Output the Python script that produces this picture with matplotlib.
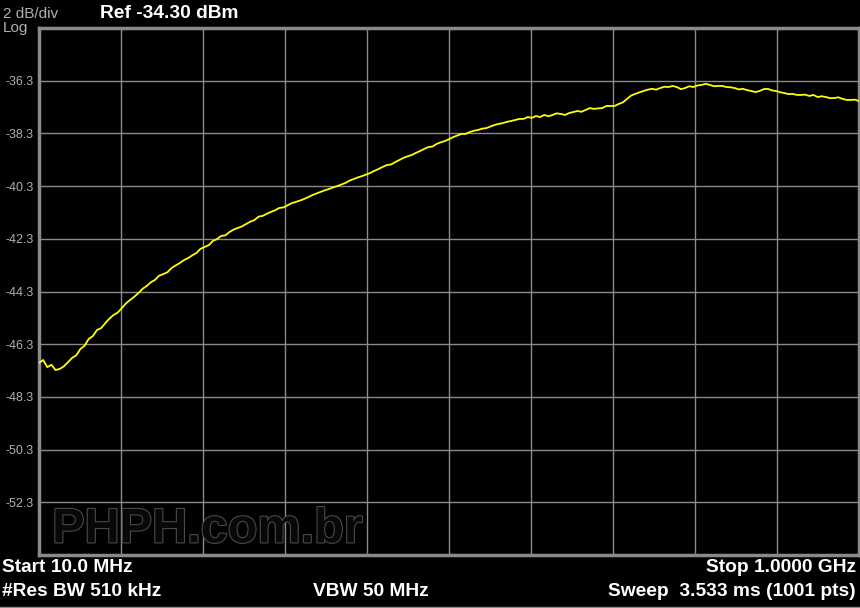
import numpy as np
import matplotlib
matplotlib.use("Agg")
import matplotlib.pyplot as plt
import matplotlib.patheffects as pe

plt.rcParams['font.family'] = ['Liberation Sans', 'DejaVu Sans']

# sweep settings
start_mhz = 10.0
stop_mhz = 1000.0
ref_level = -34.30
db_per_div = 2

# trace levels (dBm), read every 5 MHz from 10 MHz to 1000 MHz
levels = [
    -47.01, -46.90, -47.17, -47.08, -47.28, -47.24, -47.14, -46.98, -46.82, -46.72,
    -46.48, -46.36, -46.10, -45.99, -45.76, -45.69, -45.50, -45.33, -45.19, -45.10,
    -44.93, -44.75, -44.62, -44.50, -44.36, -44.20, -44.09, -43.95, -43.86, -43.70,
    -43.64, -43.57, -43.41, -43.31, -43.22, -43.11, -43.03, -42.93, -42.84, -42.68,
    -42.61, -42.54, -42.38, -42.31, -42.19, -42.17, -42.04, -41.95, -41.89, -41.83,
    -41.74, -41.65, -41.59, -41.46, -41.43, -41.35, -41.28, -41.22, -41.13, -41.11,
    -41.03, -40.95, -40.90, -40.85, -40.79, -40.72, -40.64, -40.58, -40.52, -40.46,
    -40.41, -40.35, -40.30, -40.24, -40.18, -40.09, -40.03, -39.97, -39.92, -39.86,
    -39.80, -39.72, -39.65, -39.57, -39.50, -39.48, -39.39, -39.31, -39.23, -39.17,
    -39.12, -39.04, -38.97, -38.89, -38.82, -38.80, -38.70, -38.64, -38.59, -38.52,
    -38.44, -38.38, -38.32, -38.32, -38.25, -38.20, -38.17, -38.12, -38.10, -38.04,
    -37.98, -37.94, -37.91, -37.86, -37.83, -37.79, -37.75, -37.75, -37.68, -37.71,
    -37.64, -37.68, -37.60, -37.65, -37.60, -37.54, -37.56, -37.60, -37.53, -37.49,
    -37.45, -37.48, -37.41, -37.34, -37.37, -37.35, -37.34, -37.26, -37.26, -37.26,
    -37.18, -37.12, -36.99, -36.86, -36.80, -36.74, -36.69, -36.64, -36.61, -36.64,
    -36.58, -36.53, -36.54, -36.50, -36.54, -36.62, -36.58, -36.51, -36.54, -36.48,
    -36.46, -36.42, -36.46, -36.51, -36.50, -36.50, -36.54, -36.55, -36.58, -36.63,
    -36.61, -36.66, -36.69, -36.73, -36.69, -36.62, -36.61, -36.67, -36.69, -36.74,
    -36.77, -36.81, -36.80, -36.84, -36.84, -36.83, -36.88, -36.84, -36.92, -36.89,
    -36.92, -36.96, -36.96, -36.93, -36.99, -37.03, -37.03, -37.02, -37.07,
]
freqs = np.linspace(start_mhz, stop_mhz, len(levels))

ytick_values = [-36.3, -38.3, -40.3, -42.3, -44.3, -46.3, -48.3, -50.3, -52.3]

W, H = 860, 608
fig = plt.figure(figsize=(W / 100, H / 100), dpi=100, facecolor='black')
ax = fig.add_axes([39 / W, (H - 555) / H, 820 / W, 527 / H], facecolor='black')

ax.plot(freqs, levels, color='#ffff00', lw=1.3, zorder=3)

ax.set_xlim(start_mhz, stop_mhz)
ax.set_ylim(ref_level - 10 * db_per_div, ref_level)
ax.set_xticks(np.linspace(start_mhz, stop_mhz, 11))
ax.set_yticks(ytick_values)
ax.set_yticklabels([f"{v:.1f}" for v in ytick_values])
ax.tick_params(axis='x', length=0, labelbottom=False)
ax.tick_params(axis='y', length=0, colors='#b0b0b0', labelsize=9, pad=4)
ax.grid(True, color='#8a8a8a', lw=1, zorder=1)
for s in ax.spines.values():
    s.set_color('#8a8a8a')
    s.set_linewidth(2.5)

# watermark
ax.text(0.016, 0.005, "PHPH.com.br", transform=ax.transAxes, fontsize=35,
        fontweight='bold', color='#080808', ha='left', va='bottom', zorder=2,
        path_effects=[pe.withStroke(linewidth=1.6, foreground='#4a4a4a')])

# header / footer annotations
def px(x, y):
    return x / W, 1 - y / H

fig.text(*px(3, 14), "2 dB/div", color='#b0b0b0', fontsize=11, va='center')
fig.text(*px(3, 28), "Log", color='#b0b0b0', fontsize=11, va='center')
fig.text(*px(100, 13), "Ref -34.30 dBm", color='white', fontsize=13.8,
         fontweight='bold', va='center')
fig.text(*px(2, 568), "Start 10.0 MHz", color='white', fontsize=13.8,
         fontweight='bold', va='center')
fig.text(*px(856, 568), "Stop 1.0000 GHz", color='white', fontsize=13.8,
         fontweight='bold', va='center', ha='right')
fig.text(*px(2, 591), "#Res BW 510 kHz", color='white', fontsize=13.8,
         fontweight='bold', va='center')
fig.text(*px(371, 591), "VBW 50 MHz", color='white', fontsize=13.8,
         fontweight='bold', va='center', ha='center')
fig.text(*px(856, 591), "Sweep  3.533 ms (1001 pts)", color='white', fontsize=13.8,
         fontweight='bold', va='center', ha='right')
fig.add_artist(plt.Line2D([0, 1], [1 - 606.5 / H] * 2, color='#8a8a8a', lw=1))

fig.savefig("out.png", dpi=100, facecolor='black')
